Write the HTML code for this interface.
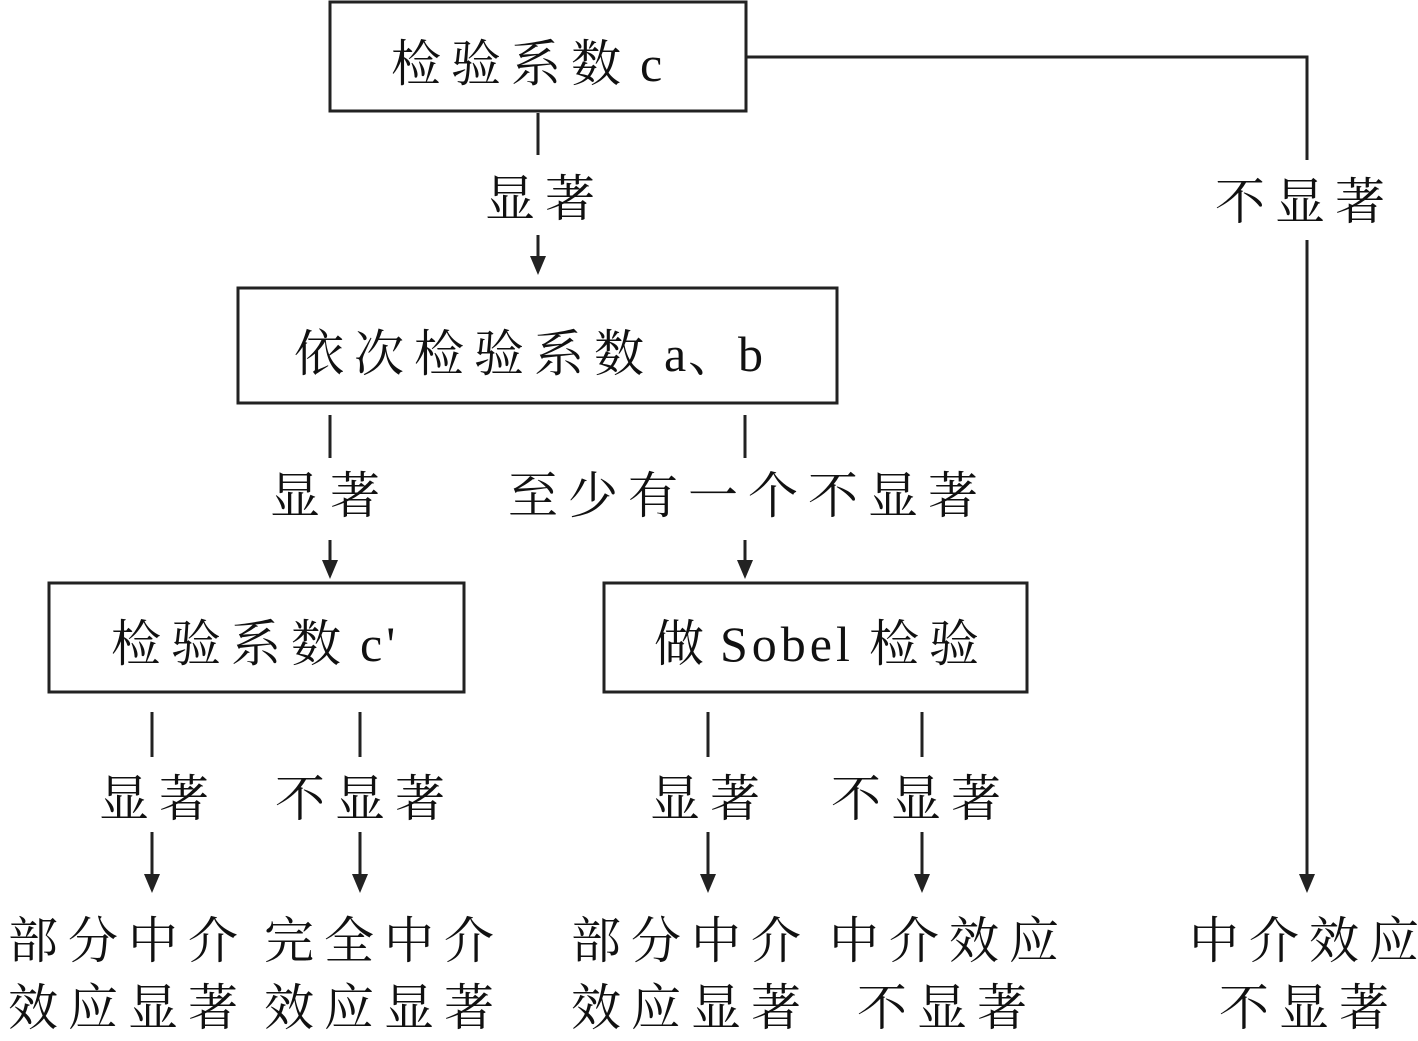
<!DOCTYPE html>
<html><head><meta charset="utf-8"><style>
html,body{margin:0;padding:0;background:#fff;}
svg text{font-family:"Liberation Serif","Noto Serif CJK SC",serif;font-size:50px;fill:#111;letter-spacing:10px;}
svg text.l{letter-spacing:4px;}
</style></head><body>
<svg width="1418" height="1036" viewBox="0 0 1418 1036" xmlns="http://www.w3.org/2000/svg">
<g fill="none" stroke="#222" stroke-width="3">
<rect x="330" y="2" width="416" height="109"/>
<rect x="238" y="288" width="599" height="115"/>
<rect x="49" y="583" width="415" height="109"/>
<rect x="604" y="583" width="423" height="109"/>
<polyline points="746,57 1307,57 1307,160"/>
<line x1="1307" y1="240" x2="1307" y2="878"/>
<line x1="538" y1="113" x2="538" y2="155"/>
<line x1="538" y1="235" x2="538" y2="260"/>
<line x1="330" y1="415" x2="330" y2="458"/>
<line x1="330" y1="540" x2="330" y2="565"/>
<line x1="745" y1="415" x2="745" y2="458"/>
<line x1="745" y1="540" x2="745" y2="565"/>
<line x1="152" y1="712" x2="152" y2="757"/>
<line x1="152" y1="832" x2="152" y2="878"/>
<line x1="360" y1="712" x2="360" y2="757"/>
<line x1="360" y1="832" x2="360" y2="878"/>
<line x1="708" y1="712" x2="708" y2="757"/>
<line x1="708" y1="832" x2="708" y2="878"/>
<line x1="922" y1="712" x2="922" y2="757"/>
<line x1="922" y1="832" x2="922" y2="878"/>
</g>
<g fill="#222">
<polygon points="1299,874 1315,874 1307,893"/>
<polygon points="530,256 546,256 538,275"/>
<polygon points="322,560 338,560 330,579"/>
<polygon points="737,560 753,560 745,579"/>
<polygon points="144,874 160,874 152,893"/>
<polygon points="352,874 368,874 360,893"/>
<polygon points="700,874 716,874 708,893"/>
<polygon points="914,874 930,874 922,893"/>
</g>
<text x="391" y="81">检验系数</text><text class="l" x="640" y="81">c</text>
<text x="485" y="216">显著</text>
<text x="1215" y="219">不显著</text>
<text x="294" y="371">依次检验系数</text><text class="l" x="664" y="371">a</text><text x="688" y="371">、</text><text class="l" x="738" y="371">b</text>
<text x="270" y="513">显著</text>
<text x="508" y="513">至少有一个不显著</text>
<text x="111" y="661">检验系数</text><text class="l" x="360" y="661">c'</text>
<text x="654" y="661">做</text><text class="l" x="720" y="661">Sobel</text><text x="869" y="661">检验</text>
<text x="99" y="816">显著</text>
<text x="275" y="816">不显著</text>
<text x="650" y="816">显著</text>
<text x="831" y="816">不显著</text>
<text x="8" y="958">部分中介</text>
<text x="8" y="1025">效应显著</text>
<text x="264" y="958">完全中介</text>
<text x="264" y="1025">效应显著</text>
<text x="571" y="958">部分中介</text>
<text x="571" y="1025">效应显著</text>
<text x="829" y="958">中介效应</text>
<text x="857" y="1025">不显著</text>
<text x="1189" y="958">中介效应</text>
<text x="1219" y="1025">不显著</text>
</svg>
</body></html>
